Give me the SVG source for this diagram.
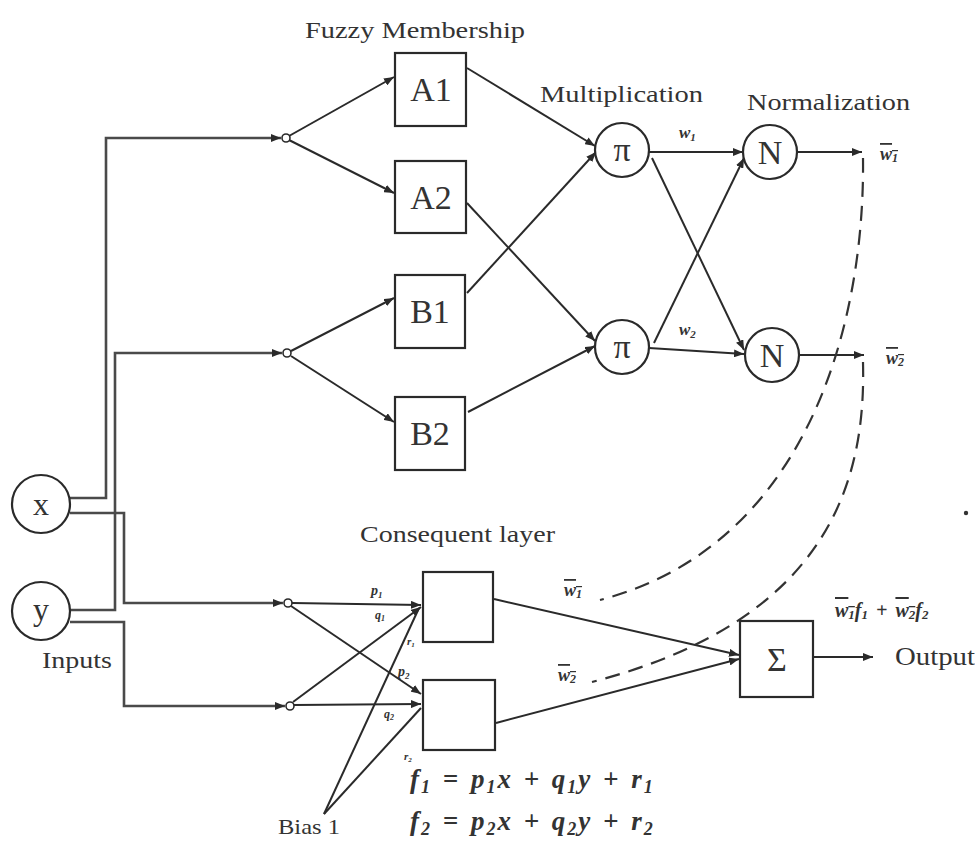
<svg xmlns="http://www.w3.org/2000/svg" width="975" height="843" viewBox="0 0 975 843">
<style>
.ln{stroke:#2a2a2a;stroke-width:2;fill:none}
.in{stroke:#4a4a4a;stroke-width:2.6;fill:none}
.dash{stroke:#333;stroke-width:2.2;fill:none;stroke-dasharray:15 9}
.box{fill:#fff;stroke:#2a2a2a;stroke-width:2.2}
.dot{fill:#fff;stroke:#2a2a2a;stroke-width:1.6}
.t{font-family:"Liberation Serif","Times New Roman",serif;fill:#333}
.big{font-size:34px;text-anchor:middle}
.hd{font-size:24px}
.mi{font-family:"Liberation Serif","Times New Roman",serif;font-style:italic;font-weight:bold;fill:#333}
.ol{text-decoration:overline}
</style>
<defs>
<marker id="ah" markerWidth="10" markerHeight="8" refX="10" refY="4" orient="auto" markerUnits="userSpaceOnUse">
<path d="M0,0 L10,4 L0,8 z" fill="#2a2a2a"/>
</marker>
</defs>

<g id="connectors">
<polyline class="in" points="70,498 106,498 106,138 281,138" marker-end="url(#ah)"/>
<polyline class="in" points="70,513 124,513 124,603 283,603" marker-end="url(#ah)"/>
<polyline class="in" points="70,610 115,610 115,353 282,353" marker-end="url(#ah)"/>
<polyline class="in" points="70,622 124,622 124,706 285,706" marker-end="url(#ah)"/>
<line class="ln" x1="289" y1="136" x2="394" y2="77" marker-end="url(#ah)"/>
<line class="ln" x1="289" y1="140" x2="394" y2="193" marker-end="url(#ah)"/>
<line class="ln" x1="291" y1="351" x2="394" y2="298" marker-end="url(#ah)"/>
<line class="ln" x1="291" y1="356" x2="394" y2="422" marker-end="url(#ah)"/>
<line class="ln" x1="467" y1="68" x2="595" y2="146" marker-end="url(#ah)"/>
<line class="ln" x1="467" y1="293" x2="596" y2="152" marker-end="url(#ah)"/>
<line class="ln" x1="467" y1="203" x2="595" y2="341" marker-end="url(#ah)"/>
<line class="ln" x1="468" y1="412" x2="595" y2="346" marker-end="url(#ah)"/>
<line class="ln" x1="649" y1="152" x2="743" y2="152" marker-end="url(#ah)"/>
<line class="ln" x1="652" y1="158" x2="744" y2="350" marker-end="url(#ah)"/>
<line class="ln" x1="654" y1="343" x2="744" y2="158" marker-end="url(#ah)"/>
<line class="ln" x1="649" y1="348" x2="744" y2="354" marker-end="url(#ah)"/>
<line class="ln" x1="797" y1="152" x2="862" y2="152" marker-end="url(#ah)"/>
<line class="ln" x1="799" y1="355" x2="864" y2="355" marker-end="url(#ah)"/>
<line class="ln" x1="292" y1="603" x2="421" y2="605" marker-end="url(#ah)"/>
<line class="ln" x1="291" y1="606" x2="421" y2="694" marker-end="url(#ah)"/>
<line class="ln" x1="293" y1="702" x2="421" y2="607" marker-end="url(#ah)"/>
<line class="ln" x1="294" y1="705" x2="421" y2="704" marker-end="url(#ah)"/>
<line class="ln" x1="324" y1="814" x2="419" y2="608"/>
<line class="ln" x1="324" y1="814" x2="421" y2="708"/>
<line class="ln" x1="494" y1="599" x2="739" y2="655" marker-end="url(#ah)"/>
<line class="ln" x1="496" y1="723" x2="739" y2="659" marker-end="url(#ah)"/>
<line class="ln" x1="813" y1="657" x2="873" y2="657" marker-end="url(#ah)"/>
<path class="dash" d="M863,158 C865,320 810,545 600,600"/>
<path class="dash" d="M863,362 C866,480 830,620 592,682"/>
</g>

<g id="x"><circle cx="41" cy="504" r="29" class="box"/><text class="t" x="41" y="515" font-size="32" text-anchor="middle">x</text></g>
<g id="y"><circle cx="41" cy="611" r="29" class="box"/><text class="t" x="41" y="620" font-size="32" text-anchor="middle">y</text></g>
<g id="split1"><circle cx="286" cy="138" r="4" class="dot"/></g>
<g id="split2"><circle cx="287" cy="353" r="4" class="dot"/></g>
<g id="split3"><circle cx="288" cy="603" r="4" class="dot"/></g>
<g id="split4"><circle cx="290" cy="706" r="4" class="dot"/></g>

<g id="A1"><rect x="395" y="53" width="71" height="73" class="box"/><text class="t big" x="431" y="101">A1</text></g>
<g id="A2"><rect x="395" y="161" width="71" height="72" class="box"/><text class="t big" x="431" y="209">A2</text></g>
<g id="B1"><rect x="395" y="275" width="70" height="73" class="box"/><text class="t big" x="430" y="323">B1</text></g>
<g id="B2"><rect x="395" y="397" width="70" height="73" class="box"/><text class="t big" x="430" y="445">B2</text></g>

<g id="pi1"><circle cx="622" cy="150" r="27" class="box"/><text class="t" x="622" y="161" font-size="34" text-anchor="middle">π</text></g>
<g id="pi2"><circle cx="622" cy="347" r="27" class="box"/><text class="t" x="622" y="358" font-size="34" text-anchor="middle">π</text></g>
<g id="N1"><circle cx="770" cy="152" r="27" class="box"/><text class="t big" x="770" y="164">N</text></g>
<g id="N2"><circle cx="772" cy="355" r="27" class="box"/><text class="t big" x="772" y="367">N</text></g>

<g id="C1"><rect x="423" y="572" width="70" height="70" class="box"/></g>
<g id="C2"><rect x="423" y="680" width="72" height="70" class="box"/></g>
<g id="sum"><rect x="740" y="621" width="73" height="76" class="box"/><text class="t big" x="777" y="671">Σ</text></g>
<g id="stray"><circle cx="966" cy="513" r="2.2" fill="#333"/></g>

<g id="labels">
<text class="t hd" x="305" y="38" textLength="220" lengthAdjust="spacingAndGlyphs">Fuzzy Membership</text>
<text class="t hd" x="540" y="102" textLength="163" lengthAdjust="spacingAndGlyphs">Multiplication</text>
<text class="t hd" x="747" y="110" textLength="163" lengthAdjust="spacingAndGlyphs">Normalization</text>
<text class="t hd" x="360" y="542" textLength="195" lengthAdjust="spacingAndGlyphs">Consequent layer</text>
<text class="t hd" x="42" y="668" textLength="70" lengthAdjust="spacingAndGlyphs">Inputs</text>
<text class="t" x="278" y="834" font-size="21" textLength="62" lengthAdjust="spacingAndGlyphs">Bias  1</text>
<text class="t" x="895" y="665" font-size="25" textLength="80" lengthAdjust="spacingAndGlyphs">Output</text>

<text class="mi" x="679" y="138" font-size="17">w<tspan font-size="11" dy="3">1</tspan></text>
<text class="mi" x="679" y="335" font-size="17">w<tspan font-size="11" dy="3">2</tspan></text>
<text class="mi ol" x="880" y="160" font-size="18">w<tspan font-size="12" dy="2">1</tspan></text>
<text class="mi ol" x="886" y="364" font-size="18">w<tspan font-size="12" dy="2">2</tspan></text>
<text class="mi ol" x="564" y="596" font-size="18">w<tspan font-size="12" dy="2">1</tspan></text>
<text class="mi ol" x="558" y="681" font-size="18">w<tspan font-size="12" dy="2">2</tspan></text>
<text class="mi" x="835" y="617" font-size="20" word-spacing="3"><tspan class="ol">w<tspan font-size="13" dy="2">1</tspan></tspan><tspan dy="-2">f</tspan><tspan font-size="13" dy="2">1</tspan><tspan dy="-2"> +  </tspan><tspan class="ol">w<tspan font-size="13" dy="2">2</tspan></tspan><tspan dy="-2">f</tspan><tspan font-size="13" dy="2">2</tspan></text>

<text class="mi" x="371" y="595" font-size="14">p<tspan font-size="9" dy="3">1</tspan></text>
<text class="mi" x="375" y="619" font-size="12">q<tspan font-size="8" dy="2">1</tspan></text>
<text class="mi" x="407" y="645" font-size="11">r<tspan font-size="7" dy="2">1</tspan></text>
<text class="mi" x="398" y="676" font-size="14">p<tspan font-size="9" dy="3">2</tspan></text>
<text class="mi" x="384" y="718" font-size="12">q<tspan font-size="8" dy="2">2</tspan></text>
<text class="mi" x="404" y="760" font-size="11">r<tspan font-size="7" dy="2">2</tspan></text>

<text class="mi" x="410" y="788" font-size="27" letter-spacing="2" word-spacing="2">f<tspan font-size="18" dy="5">1</tspan><tspan dy="-5"> = p</tspan><tspan font-size="18" dy="5">1</tspan><tspan dy="-5">x + q</tspan><tspan font-size="18" dy="5">1</tspan><tspan dy="-5">y + r</tspan><tspan font-size="18" dy="5">1</tspan></text>
<text class="mi" x="410" y="830" font-size="27" letter-spacing="2" word-spacing="2">f<tspan font-size="18" dy="5">2</tspan><tspan dy="-5"> = p</tspan><tspan font-size="18" dy="5">2</tspan><tspan dy="-5">x + q</tspan><tspan font-size="18" dy="5">2</tspan><tspan dy="-5">y + r</tspan><tspan font-size="18" dy="5">2</tspan></text>
</g>
</svg>
